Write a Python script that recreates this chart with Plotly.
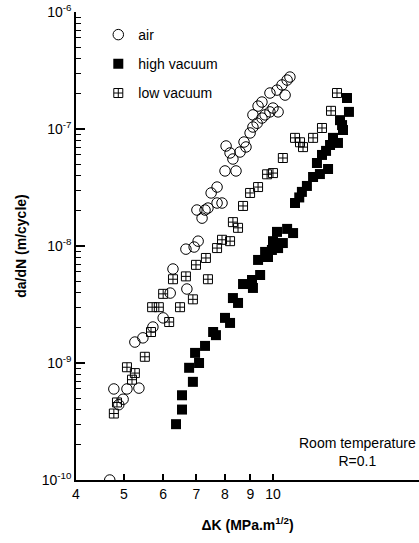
import plotly.graph_objects as go

# ---- data ----
air_dk = [4.68, 4.77, 5.07, 5.36, 4.98, 4.88, 5.26, 5.46, 5.72, 6.00, 6.20, 6.70, 6.28, 6.67, 7.06,
          7.02, 7.19, 7.50, 7.29, 7.39, 7.71, 7.89, 7.71, 8.00, 8.42, 6.93, 8.04, 8.19, 8.30, 8.58,
          8.82, 8.74, 8.99, 9.11, 9.29, 9.50, 9.11, 9.64, 9.86, 10.24, 10.0, 9.33, 9.50, 10.58, 9.86,
          10.19, 10.43, 10.68, 10.82]
air_dadn = [1e-10, 6.0e-10, 6.0e-10, 6.1e-10, 4.9e-10, 4.4e-10, 1.51e-9, 1.64e-9, 2.03e-9, 2.43e-9,
            3.96e-9, 4.29e-9, 6.36e-9, 9.4e-9, 1.10e-8, 2.03e-8, 1.73e-8, 2.84e-8, 2.03e-8, 2.11e-8,
            2.33e-8, 2.33e-8, 3.19e-8, 4.38e-8, 4.38e-8, 9.8e-9, 7.16e-8, 6.24e-8, 5.54e-8, 6.36e-8,
            7.02e-8, 7.74e-8, 9.25e-8, 1.04e-7, 1.12e-7, 1.24e-7, 1.32e-7, 1.32e-7, 1.40e-7, 1.40e-7,
            1.51e-7, 1.57e-7, 1.70e-7, 1.95e-7, 2.03e-7, 2.15e-7, 2.38e-7, 2.62e-7, 2.78e-7]

hv_dk = [6.37, 6.55, 6.55, 6.89, 6.77, 7.09, 6.96, 7.29, 7.57, 7.67, 8.00, 8.19, 8.30, 8.50, 8.70,
         9.07, 9.11, 9.42, 9.33, 9.77, 9.64, 9.95, 10.24, 10.47, 10.19, 10.68, 10.98, 10.0, 11.08,
         11.3, 11.44, 11.71, 12.05, 12.44, 12.92, 12.27, 12.56, 12.8, 13.04, 13.53, 13.22, 13.79,
         13.85, 13.66, 14.24, 14.11]
hv_dadn = [3.0e-10, 4.0e-10, 5.3e-10, 6.9e-10, 9.1e-10, 1.0e-9, 1.22e-9, 1.40e-9, 1.84e-9, 1.73e-9,
           2.43e-9, 2.20e-9, 3.59e-9, 3.26e-9, 4.73e-9, 5.12e-9, 4.38e-9, 5.65e-9, 7.6e-9, 8.05e-9,
           8.9e-9, 9.25e-9, 9.6e-9, 1.06e-8, 1.32e-8, 1.40e-8, 1.29e-8, 1.1e-8, 2.33e-8, 2.6e-8,
           2.90e-8, 3.26e-8, 3.89e-8, 4.12e-8, 4.55e-8, 5.12e-8, 6.0e-8, 6.5e-8, 7.3e-8, 7.6e-8,
           8.4e-8, 1.08e-7, 9.8e-8, 1.19e-7, 1.40e-7, 1.84e-7]

lv_dk = [4.77, 4.84, 5.19, 5.26, 5.07, 5.51, 5.67, 6.17, 5.70, 5.88, 6.49, 6.00, 6.89, 6.28, 6.67,
         7.39, 6.99, 7.32, 7.71, 7.89, 8.19, 8.30, 8.50, 8.70, 8.99, 9.33, 9.73, 10.0, 10.47, 11.08,
         11.34, 11.50, 12.05, 12.56, 13.10, 13.47]
lv_dadn = [3.7e-10, 4.6e-10, 7.2e-10, 8.2e-10, 9.2e-10, 1.13e-9, 1.84e-9, 2.24e-9, 3.0e-9, 3.0e-9,
           3.0e-9, 3.9e-9, 3.5e-9, 5.2e-9, 5.5e-9, 5.2e-9, 6.9e-9, 7.9e-9, 9.6e-9, 1.13e-8, 1.10e-8,
           1.60e-8, 1.43e-8, 2.20e-8, 2.84e-8, 3.19e-8, 4.1e-8, 4.2e-8, 5.65e-8, 8.4e-8, 7.7e-8,
           7.0e-8, 8.4e-8, 1.02e-7, 1.43e-7, 2.03e-7]

x_tickvals = [4, 5, 6, 7, 8, 9, 10]
y_tickvals = [1e-10, 1e-9, 1e-8, 1e-7, 1e-6]
y_ticktext = ["10<sup>-10</sup>", "10<sup>-9</sup>", "10<sup>-8</sup>", "10<sup>-7</sup>", "10<sup>-6</sup>"]
y_minor_digits = [2, 3, 4, 5, 6, 7, 8, 9]
y_minor_vals = [d * base for base in [1e-10, 1e-9, 1e-8, 1e-7] for d in y_minor_digits]

FONT = "Liberation Sans, Arial, sans-serif"

fig = go.Figure()
fig.add_trace(go.Scatter(x=air_dk, y=air_dadn, mode="markers", name="air", legendgroup="a",
                         marker=dict(symbol="circle-open", size=10.5, color="black", line=dict(width=1))))
fig.add_trace(go.Scatter(x=hv_dk, y=hv_dadn, mode="markers", name="high vacuum", legendgroup="b",
                         marker=dict(symbol="square", size=10, color="black", line=dict(width=0))))
fig.add_trace(go.Scatter(x=lv_dk, y=lv_dadn, mode="markers", name="low vacuum", legendgroup="c",
                         marker=dict(symbol="square-cross-open", size=9, color="black", line=dict(width=1))))

fig.update_layout(
    width=419, height=543,
    margin=dict(l=76, r=0, t=12, b=63),
    plot_bgcolor="white", paper_bgcolor="white",
    font=dict(family=FONT, size=14, color="black"),
    showlegend=True,
    legend=dict(x=0.065, y=0.985, xanchor="left", yanchor="top", bgcolor="rgba(0,0,0,0)",
                font=dict(size=14), tracegroupgap=8, traceorder="grouped"),
    xaxis=dict(type="log", range=[0.60206, 1.295], showline=True, linecolor="black", linewidth=1.5,
               mirror=False, showgrid=False, zeroline=False, ticks="inside", ticklen=6,
               tickcolor="black", tickwidth=1.6, tickmode="array", tickvals=x_tickvals,
               ticktext=[str(v) for v in x_tickvals], tickfont=dict(size=14),
               layer="above traces",
               title=dict(text="<b>ΔK (MPa.m<sup>1/2</sup>)</b>", font=dict(size=14), standoff=20)),
    yaxis=dict(type="log", range=[-10, -6], showline=True, linecolor="black", linewidth=1.5,
               showgrid=False, zeroline=False, ticks="inside", ticklen=9, tickcolor="black",
               tickwidth=1.6, tickmode="array", tickvals=y_tickvals, ticktext=y_ticktext,
               tickfont=dict(size=14), layer="above traces",
               minor=dict(ticks="inside", ticklen=5, tickcolor="black", tickwidth=1.2,
                          tickmode="array", tickvals=y_minor_vals, showgrid=False),
               title=dict(text="<b>da/dN (m/cycle)</b>", font=dict(size=14), standoff=12)),
    annotations=[dict(text="Room temperature<br>R=0.1", xref="paper", yref="paper",
                      x=0.82, y=0.06, xanchor="center", yanchor="middle", showarrow=False,
                      font=dict(size=14), align="center")],
)

fig.write_html("out.html")
